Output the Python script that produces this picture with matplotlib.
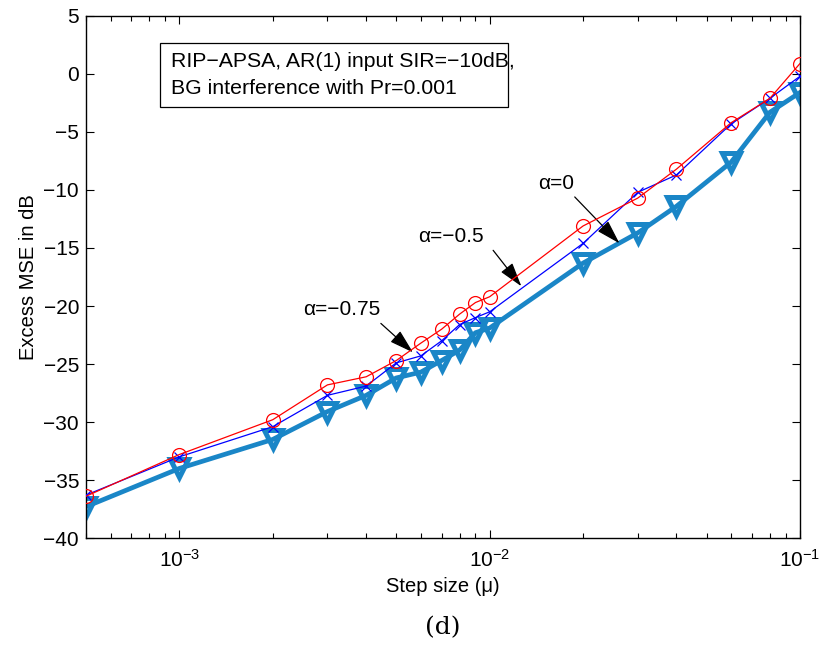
import matplotlib
matplotlib.use("Agg")
import matplotlib.pyplot as plt
from matplotlib.patches import Rectangle
from matplotlib.ticker import LogLocator, NullFormatter

plt.rcParams["font.family"] = ["Liberation Sans", "DejaVu Sans"]
plt.rcParams["mathtext.fontset"] = "custom"
plt.rcParams["mathtext.rm"] = "Liberation Sans"

# step sizes (mu)
mu = [5e-4, 1e-3, 2e-3, 3e-3, 4e-3, 5e-3, 6e-3, 7e-3, 8e-3, 9e-3,
      1e-2, 2e-2, 3e-2, 4e-2, 6e-2, 8e-2, 1e-1]
# excess MSE in dB for the three alpha values
mse_a0 = [-36.4, -32.8, -29.8, -26.8, -26.1, -24.7, -23.2, -22.0, -20.7, -19.7,
          -19.2, -13.1, -10.7, -8.2, -4.2, -2.1, 0.9]
mse_a05 = [-36.3, -33.0, -30.4, -27.7, -26.9, -24.9, -24.3, -23.0, -21.6, -21.0,
           -20.5, -14.6, -10.2, -8.7, -4.3, -2.1, -0.2]
mse_a075 = [-37.3, -34.0, -31.5, -29.1, -27.7, -26.2, -25.7, -24.7, -23.8, -22.3,
            -21.9, -16.3, -13.7, -11.4, -7.6, -3.3, -1.6]

fig = plt.figure(figsize=(8.22, 6.52), dpi=100)
ax = fig.add_axes([0.1046, 0.1748, 0.8686, 0.8007])

ax.plot(mu, mse_a075, color="#1a86c7", lw=3.4, marker="v", ms=13,
        mfc="none", mew=3.6, zorder=2)
ax.plot(mu, mse_a05, color="#0000ff", lw=0.9, marker="x", ms=7, mew=0.9, zorder=3)
ax.plot(mu, mse_a0, color="#ff0000", lw=0.9, marker="o", ms=10,
        mfc="none", mew=0.9, zorder=4)

ax.set_xscale("log")
ax.set_xlim(5e-4, 1e-1)
ax.set_ylim(-40, 5)
ax.set_yticks(range(-40, 6, 5))
ax.xaxis.set_major_locator(LogLocator(base=10, numticks=10))
ax.xaxis.set_minor_locator(LogLocator(base=10, subs=range(2, 10), numticks=20))
ax.xaxis.set_minor_formatter(NullFormatter())
ax.tick_params(which="both", direction="in", top=True, right=True, labelsize=15,
               width=0.8)
ax.tick_params(which="major", length=6)
ax.tick_params(which="minor", length=3.5)
ax.tick_params(axis="x", pad=8)
ax.tick_params(axis="y", pad=5)
for s in ax.spines.values():
    s.set_linewidth(1.0)

ax.set_xlabel("Step size (\u03bc)", fontsize=14.5, labelpad=4)
ax.set_ylabel("Excess MSE in dB", fontsize=14.5, labelpad=4)

# annotations
arrow = dict(arrowstyle="-|>,head_length=1.5,head_width=0.45", color="black",
             lw=0.9, shrinkA=0, shrinkB=0)
ax.annotate("", xy=(0.0262, -14.6), xytext=(0.0188, -10.6), arrowprops=arrow)
ax.text(0.0164, -9.4, "\u03b1=0", fontsize=15, ha="center", va="center")
ax.annotate("", xy=(0.01265, -18.3), xytext=(0.01026, -15.2), arrowprops=arrow)
ax.text(0.0075, -14.05, "\u03b1=\u22120.5", fontsize=15, ha="center", va="center")
ax.annotate("", xy=(0.00566, -24.0), xytext=(0.00446, -21.5), arrowprops=arrow)
ax.text(0.00333, -20.3, "\u03b1=\u22120.75", fontsize=15, ha="center", va="center")

# info box
ax.add_patch(Rectangle((0.1036, 0.826), 0.4874, 0.123, transform=ax.transAxes,
                       fill=False, ec="black", lw=0.9, zorder=5))
ax.text(0.119, 0.9125, "RIP\u2212APSA, AR(1) input SIR=\u221210dB,",
        transform=ax.transAxes, fontsize=15.3, va="center", ha="left", zorder=6)
ax.text(0.119, 0.8615, "BG interference with Pr=0.001",
        transform=ax.transAxes, fontsize=15.3, va="center", ha="left", zorder=6)

fig.text(0.539, 0.037, "(d)", fontsize=18, ha="center", va="center",
         family=["DejaVu Serif"])

fig.savefig("out.png", dpi=100)
